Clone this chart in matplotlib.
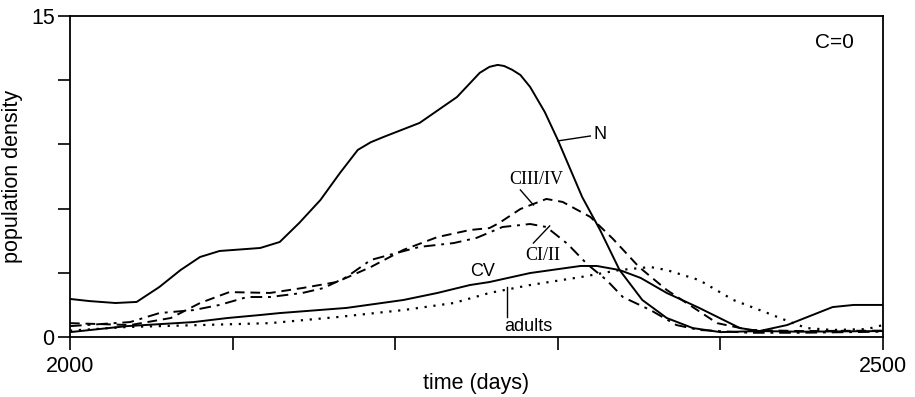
import matplotlib
matplotlib.use('Agg')
import matplotlib.pyplot as plt

plt.rcParams['font.family'] = ['Liberation Sans', 'DejaVu Sans']

# N (nauplii)
n_days = [2000, 2012, 2028, 2041, 2055, 2068, 2080, 2092, 2117, 2129, 2141, 2154, 2166, 2177,
          2185, 2193, 2215, 2238, 2252, 2258, 2263, 2267, 2272, 2277, 2283, 2292, 2300, 2315,
          2326, 2338, 2352, 2367, 2383, 2400, 2424, 2441, 2469, 2482, 2500]
n_vals = [1.78, 1.68, 1.59, 1.64, 2.34, 3.13, 3.74, 4.02, 4.16, 4.44, 5.33, 6.40, 7.66, 8.74,
          9.10, 9.35, 10.0, 11.21, 12.34, 12.62, 12.71, 12.66, 12.48, 12.24, 11.68, 10.51, 9.21, 6.54,
          5.0, 3.13, 1.73, 0.89, 0.42, 0.23, 0.28, 0.56, 1.40, 1.50, 1.50]

# CI/II
c12_days = [2000, 2037, 2055, 2076, 2092, 2109, 2123, 2143, 2156, 2170, 2185, 2201, 2215, 2236,
            2250, 2266, 2283, 2293, 2306, 2318, 2330, 2340, 2357, 2373, 2387, 2418, 2449, 2500]
c12_vals = [0.51, 0.70, 1.12, 1.26, 1.50, 1.87, 1.87, 2.06, 2.29, 2.80, 3.60, 3.93, 4.21, 4.39,
            4.63, 5.14, 5.28, 5.14, 4.35, 3.41, 2.66, 1.87, 1.26, 0.56, 0.33, 0.20, 0.20, 0.25]

# CIII/IV
c34_days = [2000, 2037, 2062, 2080, 2098, 2123, 2143, 2164, 2185, 2205, 2226, 2246, 2258, 2264,
            2277, 2293, 2303, 2320, 2334, 2350, 2367, 2383, 2398, 2418, 2449, 2500]
c34_vals = [0.65, 0.56, 0.89, 1.59, 2.10, 2.06, 2.29, 2.57, 3.27, 4.07, 4.67, 5.0, 5.09, 5.33,
            5.98, 6.45, 6.31, 5.61, 4.58, 3.27, 2.20, 1.40, 0.65, 0.33, 0.28, 0.30]

# CV
cv_days = [2000, 2035, 2076, 2097, 2117, 2129, 2170, 2205, 2226, 2246, 2258, 2283, 2314, 2324,
           2338, 2351, 2367, 2387, 2412, 2424, 2449, 2500]
cv_vals = [0.23, 0.51, 0.70, 0.89, 1.03, 1.12, 1.36, 1.73, 2.06, 2.43, 2.57, 2.99, 3.32, 3.32,
           3.13, 2.76, 2.06, 1.36, 0.42, 0.28, 0.25, 0.28]

# adults
ad_days = [2000, 2035, 2080, 2123, 2164, 2205, 2236, 2258, 2283, 2314, 2338, 2357, 2367, 2387,
           2408, 2429, 2443, 2453, 2469, 2490, 2500]
ad_vals = [0.30, 0.47, 0.56, 0.65, 0.93, 1.26, 1.59, 2.06, 2.43, 2.80, 3.13, 3.27, 3.13, 2.66,
           1.73, 1.12, 0.70, 0.42, 0.33, 0.37, 0.56]

fig = plt.figure(figsize=(9.15, 3.97), dpi=100)
ax = fig.add_axes([0.0765, 0.151, 0.8885, 0.809])

lw = 1.4
ax.plot(n_days, n_vals, color='black', lw=lw, solid_joinstyle='round')
ax.plot(c12_days, c12_vals, color='black', lw=lw, linestyle=(0, (6, 3, 1.5, 3)))
ax.plot(c34_days, c34_vals, color='black', lw=lw, linestyle=(0, (5, 3)))
ax.plot(cv_days, cv_vals, color='black', lw=lw, solid_joinstyle='round')
ax.plot(ad_days, ad_vals, color='black', lw=1.6, linestyle=(0, (1, 3)))

# labels with leader lines
ax.plot([2300, 2320], [9.16, 9.39], color='black', lw=1)
ax.text(2326, 9.44, 'N', fontsize=13, ha='center', va='center')
ax.plot([2277, 2285], [6.87, 6.17], color='black', lw=1)
ax.text(2287, 7.34, 'CIII/IV', fontsize=13, ha='center', va='center', family='Liberation Serif')
ax.plot([2285, 2295], [4.39, 5.19], color='black', lw=1)
ax.text(2291, 3.83, 'CI/II', fontsize=13, ha='center', va='center', family='Liberation Serif')
ax.text(2254, 3.04, 'CV', fontsize=13, ha='center', va='center')
ax.plot([2269, 2269], [0.93, 2.34], color='black', lw=1)
ax.text(2282, 0.47, 'adults', fontsize=13, ha='center', va='center')
ax.text(2470, 13.74, 'C=0', fontsize=15, ha='center', va='center')

ax.set_xlim(2000, 2500)
ax.set_ylim(0, 15)
ax.set_xticks([2000, 2100, 2200, 2300, 2400, 2500])
ax.set_xticklabels(['2000', '', '', '', '', '2500'])
ax.set_yticks([0, 3, 6, 9, 12, 15])
ax.set_yticklabels(['0', '', '', '', '', '15'])
ax.tick_params(direction='out', length=9, width=1.2, labelsize=15.5)
ax.tick_params(axis='x', pad=5)
ax.tick_params(axis='y', pad=2)
for s in ax.spines.values():
    s.set_linewidth(1.3)

ax.set_xlabel('time (days)', fontsize=15.5, labelpad=-3)
ax.set_ylabel('population density', fontsize=15.5, labelpad=6)

fig.savefig('out.png', dpi=100)
